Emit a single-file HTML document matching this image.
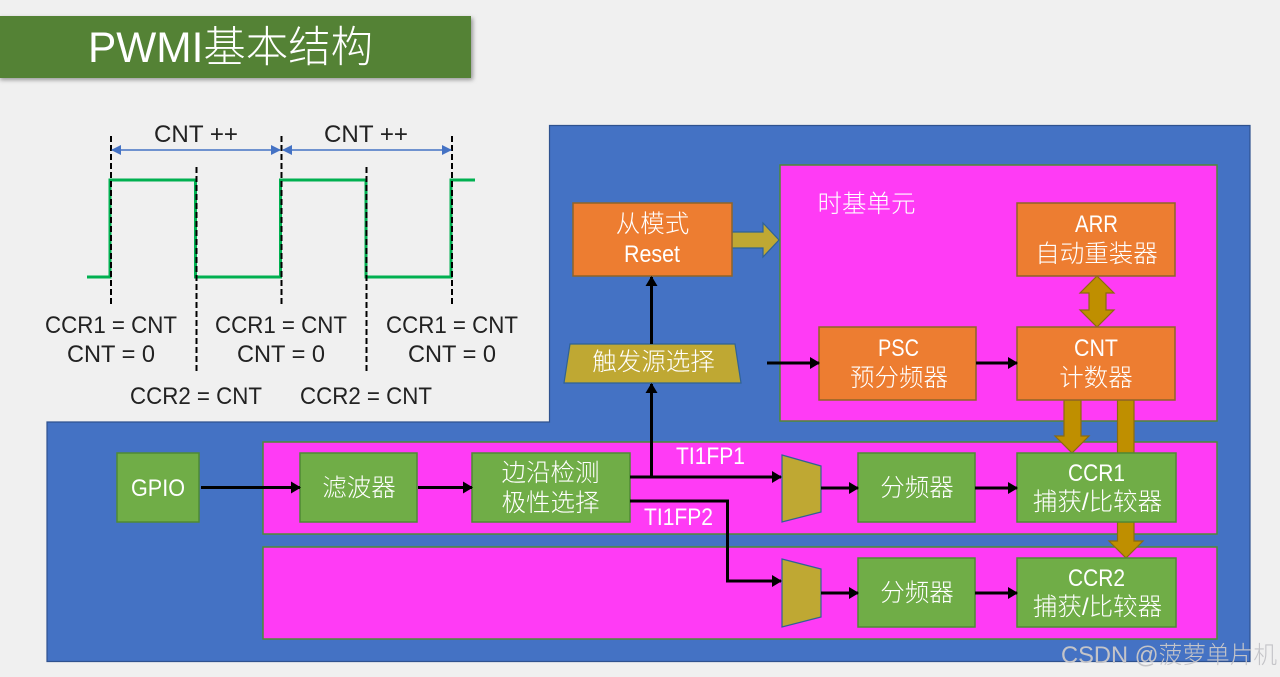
<!DOCTYPE html>
<html>
<head>
<meta charset="utf-8">
<style>
html,body{margin:0;padding:0;background:#f0f0f0;width:1280px;height:677px;overflow:hidden}
svg{display:block;filter:blur(.35px)}
text{font-family:"Liberation Sans","Noto Sans CJK SC",sans-serif;text-anchor:middle;font-weight:300}
.w{fill:#fff;font-size:24.5px}
.b{fill:#222;font-size:24px}
.o{fill:#ed7d31;stroke:#8f6428;stroke-width:1.500}
.g{fill:#70ad47;stroke:#4f8a35;stroke-width:1.500}
.m{fill:#ff3bf5;stroke:#4f8a35;stroke-width:1.500}
.y{fill:#bfa833;stroke:#2f6295;stroke-width:1.200}
.a{fill:#bf8f00;stroke:#8a6a10;stroke-width:1.200}
.l{stroke:#000;stroke-width:3;fill:none}
.d{stroke:#000;stroke-width:2;stroke-dasharray:6 3;fill:none}
.p{fill:none;stroke:#00b050;stroke-width:3}
</style>
</head>
<body>
<svg width="1280" height="677" viewBox="0 0 1280 677" xmlns="http://www.w3.org/2000/svg">
<defs>
<marker id="ah" markerUnits="userSpaceOnUse" markerWidth="10" markerHeight="12" refX="9" refY="6" orient="auto"><path d="M0 0L10 6L0 12z" fill="#000"/></marker>
<marker id="bh" markerUnits="userSpaceOnUse" markerWidth="10" markerHeight="10" refX="9" refY="5" orient="auto-start-reverse"><path d="M0 0L10 5L0 10z" fill="#4472c4"/></marker>
<filter id="s" x="-5%" y="-20%" width="110%" height="140%"><feGaussianBlur stdDeviation="2"/></filter>
</defs>
<rect width="1280" height="677" fill="#f0f0f0"/>
<rect x="0" y="18" width="473" height="62" fill="#999" filter="url(#s)"/>
<rect x="0" y="16" width="471" height="62" fill="#548235"/>
<text x="230.500" y="62" fill="#fff" font-size="43" textLength="285" lengthAdjust="spacingAndGlyphs">PWMI基本结构</text>

<path d="M549.500 125.500H1250V661.500H47V422H549.500Z" fill="#4472c4" stroke="#2f528f" stroke-width="1.200"/>

<!-- timing -->
<path class="p" d="M87 277H110V180H195.500V277H280.500V180H366V277H451V180H475"/>
<path class="d" d="M111 136V304M281.500 136V304M452 136V304M196.500 167V374M366.500 167V374"/>
<path d="M112 150H280" stroke="#4472c4" stroke-width="1.500" marker-start="url(#bh)" marker-end="url(#bh)"/>
<path d="M283 150H451" stroke="#4472c4" stroke-width="1.500" marker-start="url(#bh)" marker-end="url(#bh)"/>
<text class="b" x="196" y="142" textLength="84" lengthAdjust="spacingAndGlyphs">CNT ++</text>
<text class="b" x="366" y="142" textLength="84" lengthAdjust="spacingAndGlyphs">CNT ++</text>
<text class="b" x="111" y="333" textLength="132" lengthAdjust="spacingAndGlyphs">CCR1 = CNT</text>
<text class="b" x="111" y="362" textLength="88" lengthAdjust="spacingAndGlyphs">CNT = 0</text>
<text class="b" x="281" y="333" textLength="132" lengthAdjust="spacingAndGlyphs">CCR1 = CNT</text>
<text class="b" x="281" y="362" textLength="88" lengthAdjust="spacingAndGlyphs">CNT = 0</text>
<text class="b" x="452" y="333" textLength="132" lengthAdjust="spacingAndGlyphs">CCR1 = CNT</text>
<text class="b" x="452" y="362" textLength="88" lengthAdjust="spacingAndGlyphs">CNT = 0</text>
<text class="b" x="196" y="404" textLength="132" lengthAdjust="spacingAndGlyphs">CCR2 = CNT</text>
<text class="b" x="366" y="404" textLength="132" lengthAdjust="spacingAndGlyphs">CCR2 = CNT</text>

<!-- magenta regions -->
<rect class="m" x="780" y="165" width="437" height="256"/>
<rect class="m" x="263" y="442" width="954" height="92"/>
<rect class="m" x="263" y="547" width="954" height="92"/>
<text class="w" x="866.500" y="212">时基单元</text>

<!-- gold arrows -->
<path class="a" d="M1117.500 400H1134V453H1117.500Z"/>
<path class="a" d="M1064 400H1081V436H1089L1072 453L1055 436H1064Z"/>
<path class="a" d="M1117.500 522H1134V541H1143L1126 558L1109 541H1117.500Z"/>
<path class="a" d="M1097 276L1114 293H1106V310H1114L1097 327L1080 310H1089V293H1080Z"/>
<path d="M732 232H763V223L779 240L763 257V248H732Z" fill="#bfa833" stroke="#2f6295" stroke-width="1.200"/>

<!-- orange -->
<rect class="o" x="573" y="203" width="159" height="73"/>
<text class="w" x="652.500" y="232">从模式</text><text class="w" x="652" y="262" textLength="56" lengthAdjust="spacingAndGlyphs">Reset</text>
<rect class="o" x="1017" y="203" width="158" height="73"/>
<text class="w" x="1096.500" y="232" textLength="43" lengthAdjust="spacingAndGlyphs">ARR</text><text class="w" x="1096.500" y="262">自动重装器</text>
<rect class="o" x="819" y="327" width="157" height="73"/>
<text class="w" x="898.500" y="356" textLength="41" lengthAdjust="spacingAndGlyphs">PSC</text><text class="w" x="899" y="386">预分频器</text>
<rect class="o" x="1017" y="327" width="158" height="73"/>
<text class="w" x="1096" y="356" textLength="44" lengthAdjust="spacingAndGlyphs">CNT</text><text class="w" x="1096" y="386">计数器</text>

<polygon class="y" points="570,344 735,344 741,383 564,383"/>
<text class="w" x="653.500" y="370">触发源选择</text>

<!-- green -->
<rect class="g" x="117" y="453" width="82" height="69"/>
<text class="w" x="158" y="496" textLength="54" lengthAdjust="spacingAndGlyphs">GPIO</text>
<rect class="g" x="300" y="453" width="117" height="69"/>
<text class="w" x="359" y="496">滤波器</text>
<rect class="g" x="472" y="453" width="158" height="69"/>
<text class="w" x="550.500" y="481">边沿检测</text><text class="w" x="550.500" y="511">极性选择</text>
<rect class="g" x="858" y="453" width="117" height="69"/>
<text class="w" x="917" y="496">分频器</text>
<rect class="g" x="1017" y="453" width="159" height="69"/>
<text class="w" x="1096.500" y="481" textLength="57" lengthAdjust="spacingAndGlyphs">CCR1</text><text class="w" x="1097.500" y="510">捕获/比较器</text>
<rect class="g" x="858" y="558" width="117" height="69"/>
<text class="w" x="917" y="601">分频器</text>
<rect class="g" x="1017" y="558" width="159" height="69"/>
<text class="w" x="1096.500" y="586" textLength="57" lengthAdjust="spacingAndGlyphs">CCR2</text><text class="w" x="1097.500" y="615">捕获/比较器</text>

<polygon class="y" points="782,455 821,466 821,512 782,522"/>
<polygon class="y" points="782,559 821,569 821,617 782,627"/>

<!-- black connectors -->
<path class="l" d="M201 487.500H300" marker-end="url(#ah)"/>
<path class="l" d="M418 487.500H472" marker-end="url(#ah)"/>
<path class="l" d="M630 477H781" marker-end="url(#ah)"/>
<path class="l" d="M651.500 477V384" marker-end="url(#ah)"/>
<path class="l" d="M651.500 344V277" marker-end="url(#ah)"/>
<path class="l" d="M630 501H727.500V581H781" marker-end="url(#ah)"/>
<path class="l" d="M821 488H858" marker-end="url(#ah)"/>
<path class="l" d="M975 488H1017" marker-end="url(#ah)"/>
<path class="l" d="M821 593H858" marker-end="url(#ah)"/>
<path class="l" d="M975 593H1017" marker-end="url(#ah)"/>
<path class="l" d="M767 363H819" marker-end="url(#ah)"/>
<path class="l" d="M976 363H1017" marker-end="url(#ah)"/>

<text class="w" x="710.500" y="464" textLength="69" lengthAdjust="spacingAndGlyphs">TI1FP1</text>
<text class="w" x="678.500" y="525" textLength="69" lengthAdjust="spacingAndGlyphs">TI1FP2</text>
<text x="1169" y="663" fill="#c4c4c8" style="font-size:24px" textLength="216" lengthAdjust="spacingAndGlyphs">CSDN @菠萝单片机</text>
</svg>
</body>
</html>
